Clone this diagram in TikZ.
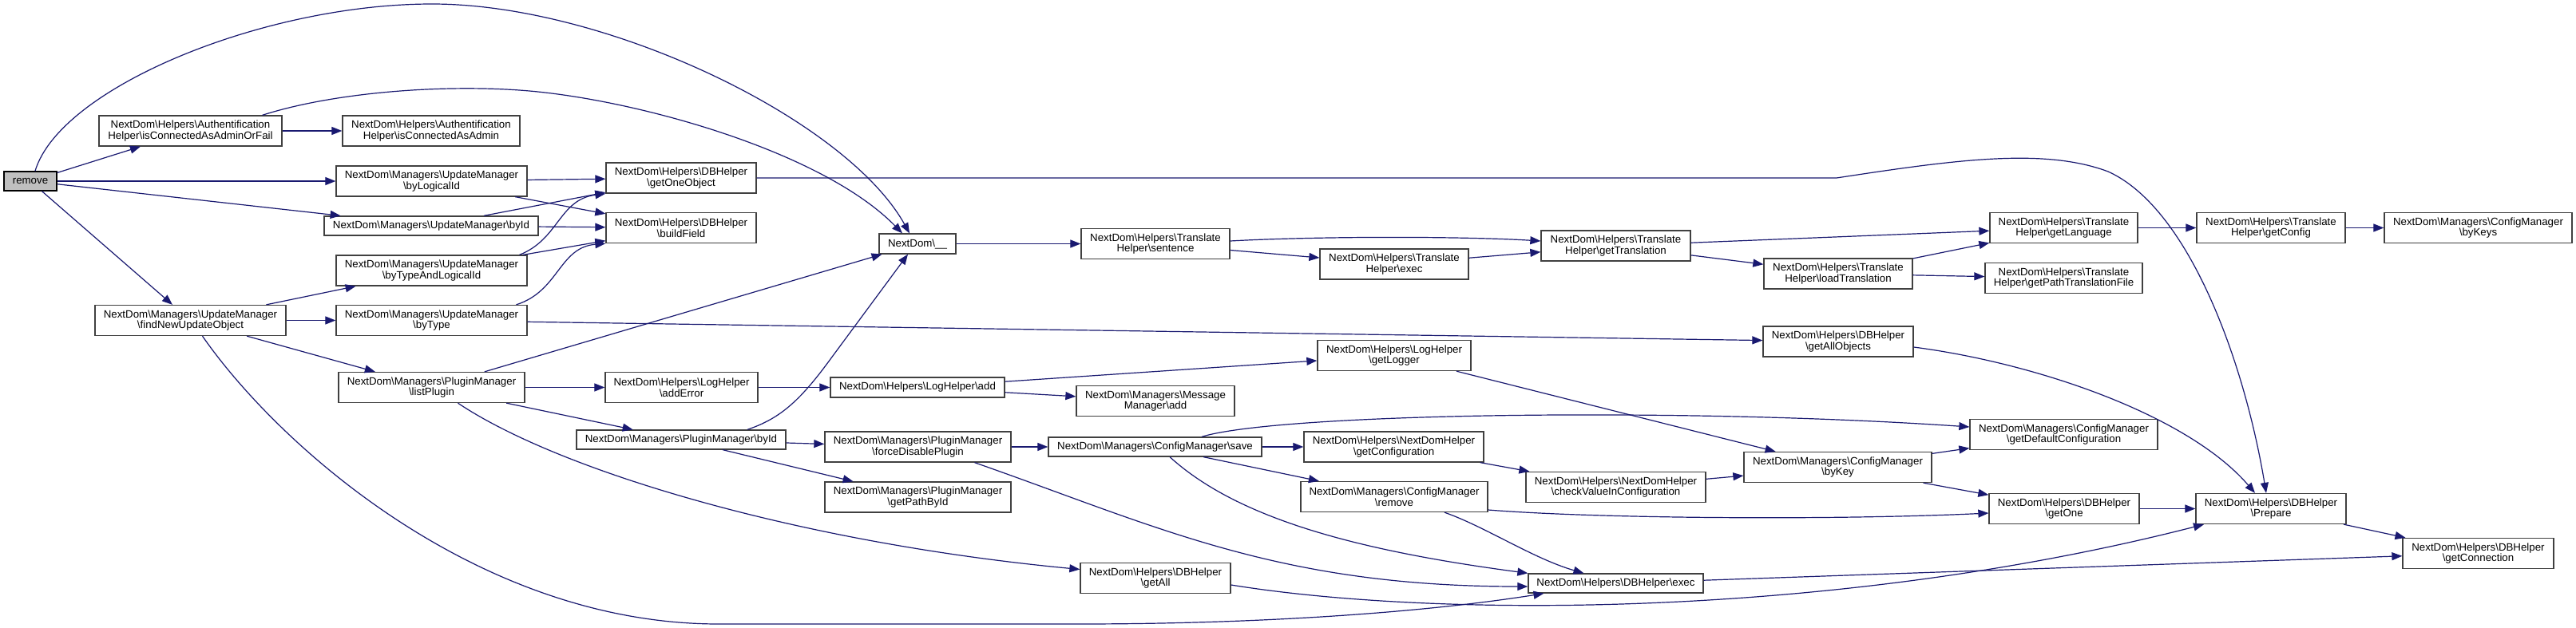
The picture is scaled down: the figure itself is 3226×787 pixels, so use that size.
\documentclass[tikz,border=0pt]{standalone}
\usepackage{fontspec}
\setmainfont{Liberation Sans}
\usepackage{tikz}
\usetikzlibrary{arrows.meta}
\usepackage{xcolor}
\definecolor{edgeBlue}{HTML}{191970}
\definecolor{boxLine}{HTML}{404040}
\definecolor{rootFill}{HTML}{BFBFBF}
\newcommand{\bsl}{\textbackslash}

\begin{document}
\begin{tikzpicture}[
    x=1pt, y=-1pt,
    fn/.style={draw=boxLine, fill=white, line width=1.3pt, inner sep=0pt, align=center,
      minimum height=38pt, font=\fontsize{13.3}{13.6}\selectfont},
    one/.style={minimum height=24pt},
    root/.style={fn, one, draw=black, fill=rootFill},
    call/.style={draw=edgeBlue, line width=1.2pt, -{Triangle[length=13pt,width=10pt]}},
]
\fill[white] (0,0) rectangle (3226,787);
\useasboundingbox (0,0) rectangle (3226,787);
\node[root, minimum width=66pt] (rm) at (38,227) {remove};
\node[fn, minimum width=229pt] (authFail) at (238.5,164) {NextDom\bsl Helpers\bsl Authentification\\Helper\bsl isConnectedAsAdminOrFail};
\node[fn, minimum width=239pt] (findNew) at (238.5,401.5) {NextDom\bsl Managers\bsl UpdateManager\\\bsl findNewUpdateObject};
\node[fn, minimum width=222pt] (authAdmin) at (540,164) {NextDom\bsl Helpers\bsl Authentification\\Helper\bsl isConnectedAsAdmin};
\node[fn, minimum width=239pt] (byLogical) at (540.5,227) {NextDom\bsl Managers\bsl UpdateManager\\\bsl byLogicalId};
\node[fn, one, minimum width=268pt] (updById) at (540,283) {NextDom\bsl Managers\bsl UpdateManager\bsl byId};
\node[fn, minimum width=239pt] (byTypeLogical) at (540.5,339) {NextDom\bsl Managers\bsl UpdateManager\\\bsl byTypeAndLogicalId};
\node[fn, minimum width=239pt] (byType) at (540.5,401.5) {NextDom\bsl Managers\bsl UpdateManager\\\bsl byType};
\node[fn, minimum width=233pt] (listPlugin) at (540.5,485.5) {NextDom\bsl Managers\bsl PluginManager\\\bsl listPlugin};
\node[fn, minimum width=188pt] (getOneObj) at (853,223) {NextDom\bsl Helpers\bsl DBHelper\\\bsl getOneObject};
\node[fn, minimum width=188pt] (buildField) at (853,285.5) {NextDom\bsl Helpers\bsl DBHelper\\\bsl buildField};
\node[fn, minimum width=191pt] (addError) at (853.5,485.5) {NextDom\bsl Helpers\bsl LogHelper\\\bsl addError};
\node[fn, one, minimum width=262pt] (plugById) at (853,551) {NextDom\bsl Managers\bsl PluginManager\bsl byId};
\node[fn, one, minimum width=96pt, minimum height=25pt] (nd) at (1149,305.5) {NextDom\bsl\_\_};
\node[fn, one, minimum width=218pt, minimum height=25pt] (logAdd) at (1149,485.5) {NextDom\bsl Helpers\bsl LogHelper\bsl add};
\node[fn, minimum width=233pt] (forceDisable) at (1149.5,560) {NextDom\bsl Managers\bsl PluginManager\\\bsl forceDisablePlugin};
\node[fn, minimum width=233pt] (pathById) at (1149.5,623) {NextDom\bsl Managers\bsl PluginManager\\\bsl getPathById};
\node[fn, minimum width=186pt] (sentence) at (1447,305.5) {NextDom\bsl Helpers\bsl Translate\\Helper\bsl sentence};
\node[fn, minimum width=198pt] (msgAdd) at (1447,502.5) {NextDom\bsl Managers\bsl Message\\Manager\bsl add};
\node[fn, one, minimum width=267pt] (cfgSave) at (1446.5,560) {NextDom\bsl Managers\bsl ConfigManager\bsl save};
\node[fn, minimum width=188pt] (getAll) at (1447,724.5) {NextDom\bsl Helpers\bsl DBHelper\\\bsl getAll};
\node[fn, minimum width=186pt] (trExec) at (1746,331) {NextDom\bsl Helpers\bsl Translate\\Helper\bsl exec};
\node[fn, minimum width=192pt] (getLogger) at (1746,445.5) {NextDom\bsl Helpers\bsl LogHelper\\\bsl getLogger};
\node[fn, minimum width=225pt] (getConfiguration) at (1745.5,560) {NextDom\bsl Helpers\bsl NextDomHelper\\\bsl getConfiguration};
\node[fn, minimum width=234pt] (cfgRemove) at (1746,622.5) {NextDom\bsl Managers\bsl ConfigManager\\\bsl remove};
\node[fn, minimum width=187pt] (getTranslation) at (2023.5,308) {NextDom\bsl Helpers\bsl Translate\\Helper\bsl getTranslation};
\node[fn, minimum width=225pt] (checkValue) at (2023.5,610.5) {NextDom\bsl Helpers\bsl NextDomHelper\\\bsl checkValueInConfiguration};
\node[fn, one, minimum width=219pt] (dbExec) at (2023.5,731) {NextDom\bsl Helpers\bsl DBHelper\bsl exec};
\node[fn, minimum width=186pt] (loadTranslation) at (2302,343) {NextDom\bsl Helpers\bsl Translate\\Helper\bsl loadTranslation};
\node[fn, minimum width=188pt] (getAllObjects) at (2302,428) {NextDom\bsl Helpers\bsl DBHelper\\\bsl getAllObjects};
\node[fn, minimum width=235pt] (byKey) at (2301.5,585.5) {NextDom\bsl Managers\bsl ConfigManager\\\bsl byKey};
\node[fn, minimum width=185pt] (getLanguage) at (2584.5,285.5) {NextDom\bsl Helpers\bsl Translate\\Helper\bsl getLanguage};
\node[fn, minimum width=197pt] (pathTransFile) at (2584.5,348.5) {NextDom\bsl Helpers\bsl Translate\\Helper\bsl getPathTranslationFile};
\node[fn, minimum width=235pt] (defaultConfig) at (2584.5,544.5) {NextDom\bsl Managers\bsl ConfigManager\\\bsl getDefaultConfiguration};
\node[fn, minimum width=188pt] (getOne) at (2585,637.5) {NextDom\bsl Helpers\bsl DBHelper\\\bsl getOne};
\node[fn, minimum width=186pt] (getConfig) at (2844,285.5) {NextDom\bsl Helpers\bsl Translate\\Helper\bsl getConfig};
\node[fn, minimum width=188pt] (prepare) at (2844,637.5) {NextDom\bsl Helpers\bsl DBHelper\\\bsl Prepare};
\node[fn, minimum width=235pt] (byKeys) at (3103.5,285.5) {NextDom\bsl Managers\bsl ConfigManager\\\bsl byKeys};
\node[fn, minimum width=189pt] (getConnection) at (3103.5,693.5) {NextDom\bsl Helpers\bsl DBHelper\\\bsl getConnection};

\draw[call] ([xshift=6pt]rm.north) .. controls (75,110) and (330,5) .. (541,5) .. controls (760,5) and (1060,150) .. ([xshift=-10pt]nd.north);
\draw[call] (rm) -- (authFail);
\draw[call] (rm) -- (byLogical);
\draw[call] (rm) -- (updById);
\draw[call] (rm) -- (findNew);
\draw[call] (authFail) -- (authAdmin);
\draw[call] ([xshift=90pt]authFail.north) .. controls (420,115) and (560,105) .. (663,114) .. controls (800,126) and (1030,190) .. ([xshift=-19pt]nd.north);
\draw[call] (findNew) -- (byTypeLogical);
\draw[call] (findNew) -- (byType);
\draw[call] (findNew) -- (listPlugin);
\draw[call] ([xshift=15pt]findNew.south) .. controls (350,560) and (600,782) .. (900,782) -- (1350,782) .. controls (1600,782) and (1800,765) .. ([xshift=-90pt]dbExec.south);
\draw[call] (byLogical) -- (getOneObj);
\draw[call] (byLogical) -- (buildField);
\draw[call] (updById) -- (getOneObj);
\draw[call] (updById) -- (buildField);
\draw[call] ([xshift=110pt]byTypeLogical.north) .. controls (700,300) and (700,250) .. (getOneObj.south west);
\draw[call] (byTypeLogical) -- (buildField);
\draw[call] ([xshift=106pt]byType.north) .. controls (700,365) and (700,310) .. (buildField.south west);
\draw[call] (byType) -- (getAllObjects);
\draw[call] (listPlugin) -- (nd);
\draw[call] (listPlugin) -- (addError);
\draw[call] (listPlugin) -- (plugById);
\draw[call] ([xshift=33pt]listPlugin.south) .. controls (700,590) and (1000,680) .. ([yshift=11pt]getAll.west);
\draw[call] (getOneObj.east) -- (2300,223) .. controls (2450,200) and (2560,185) .. (2640,215) .. controls (2740,260) and (2810,450) .. ([xshift=-6pt]prepare.north);
\draw[call] (addError) -- (logAdd);
\draw[call] ([xshift=83pt]plugById.north) .. controls (975,525) and (1000,505) .. (1040,450) -- ([xshift=-12pt]nd.south);
\draw[call] (plugById) -- (forceDisable);
\draw[call] (plugById) -- (pathById);
\draw[call] (nd) -- (sentence);
\draw[call] (logAdd) -- (getLogger);
\draw[call] (logAdd) -- (msgAdd);
\draw[call] (forceDisable) -- (cfgSave);
\draw[call] ([xshift=71pt]forceDisable.south) .. controls (1450,660) and (1600,735) .. ([yshift=-4pt]dbExec.west);
\draw[call] ([yshift=3.5pt]sentence.east) .. controls (1650,296) and (1830,296) .. ([yshift=6pt]getTranslation.west);
\draw[call] (sentence) -- (trExec);
\draw[call] (trExec) -- (getTranslation);
\draw[call] (getLogger) -- (byKey);
\draw[call] (cfgSave) -- (getConfiguration);
\draw[call] (cfgSave) -- (cfgRemove);
\draw[call] ([xshift=58.5pt]cfgSave.north) .. controls (1600,518) and (2100,510) .. ([yshift=9.5pt]defaultConfig.west);
\draw[call] ([xshift=18.5pt]cfgSave.south) .. controls (1550,650) and (1700,690) .. (dbExec.north west);
\draw[call] (getConfiguration) -- (checkValue);
\draw[call] ([yshift=-16.5pt]cfgRemove.east) .. controls (2000,650) and (2300,652) .. ([yshift=-5.5pt]getOne.west);
\draw[call] ([xshift=63pt]cfgRemove.south) .. controls (1860,660) and (1920,700) .. ([xshift=-40pt]dbExec.north);
\draw[call] ([yshift=-8.5pt]getAll.east) .. controls (1800,775) and (2300,775) .. ([xshift=-84pt]prepare.south);
\draw[call] (getTranslation) -- (getLanguage);
\draw[call] (getTranslation) -- (loadTranslation);
\draw[call] (checkValue) -- (byKey);
\draw[call] (dbExec) -- (getConnection);
\draw[call] (loadTranslation) -- (getLanguage);
\draw[call] (loadTranslation) -- (pathTransFile);
\draw[call] ([yshift=-7pt]getAllObjects.east) .. controls (2550,455) and (2740,520) .. ([xshift=-20pt]prepare.north);
\draw[call] (byKey) -- (defaultConfig);
\draw[call] (byKey) -- (getOne);
\draw[call] (getLanguage) -- (getConfig);
\draw[call] (getOne) -- (prepare);
\draw[call] (getConfig) -- (byKeys);
\draw[call] (prepare) -- (getConnection);
\end{tikzpicture}
\end{document}
